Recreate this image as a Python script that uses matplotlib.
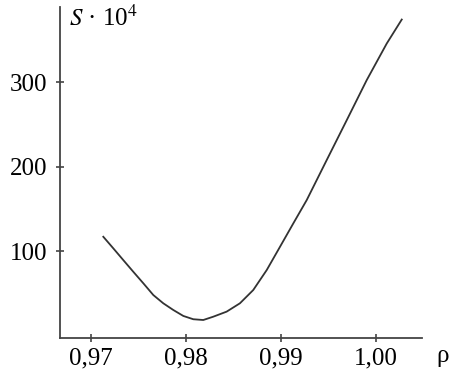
import numpy as np
import matplotlib
matplotlib.use('Agg')
import matplotlib.pyplot as plt
from matplotlib.ticker import FuncFormatter

plt.rcParams['font.family'] = ['Liberation Serif', 'DejaVu Serif']
plt.rcParams['mathtext.fontset'] = 'stix'

# Curve S*10^4 vs rho
rho = [0.97130, 0.97235, 0.97340, 0.97445, 0.97551, 0.97656, 0.97761,
       0.97866, 0.97972, 0.98077, 0.98182, 0.98287, 0.98428, 0.98568,
       0.98708, 0.98850, 0.98990, 0.99130, 0.99271, 0.99481, 0.99692,
       0.99902, 1.00113, 1.00271]
s_val = [116.9, 103.2, 89.3, 75.5, 61.8, 47.9, 38.1,
         30.2, 23.1, 19.2, 18.3, 22.2, 28.2, 38.1,
         53.8, 77.5, 105.1, 132.8, 160.4, 207.7, 255.0,
         302.4, 345.8, 374.2]

x_ticks = [0.97, 0.98, 0.99, 1.00]
y_ticks = [100, 200, 300]

fig = plt.figure(figsize=(4.65, 3.71), dpi=100)
ax = fig.add_axes([0.129, 0.089, 0.7785, 0.892])

ax.plot(rho, s_val, color='#333333', lw=1.3)

ax.set_xlim(0.96674, 1.00484)
ax.set_ylim(-3, 389)
ax.set_xticks(x_ticks)
ax.set_yticks(y_ticks)
ax.xaxis.set_major_formatter(FuncFormatter(lambda v, p: f"{v:.2f}".replace('.', ',')))

for side in ['top', 'right']:
    ax.spines[side].set_visible(False)
for side in ['left', 'bottom']:
    ax.spines[side].set_color('#444444')
    ax.spines[side].set_linewidth(1.3)

ax.tick_params(direction='inout', length=6, width=1.2, color='#444444',
               labelsize=18, pad=4)
ax.tick_params(axis='y', pad=6)

ax.text(0.025, 0.967, r'$S$ · 10$^4$', transform=ax.transAxes,
        fontsize=18, ha='left', va='center')
ax.text(1.058, -0.054, 'ρ', transform=ax.transAxes, fontsize=18,
        ha='center', va='center', clip_on=False)

fig.savefig('out.png', dpi=100)
